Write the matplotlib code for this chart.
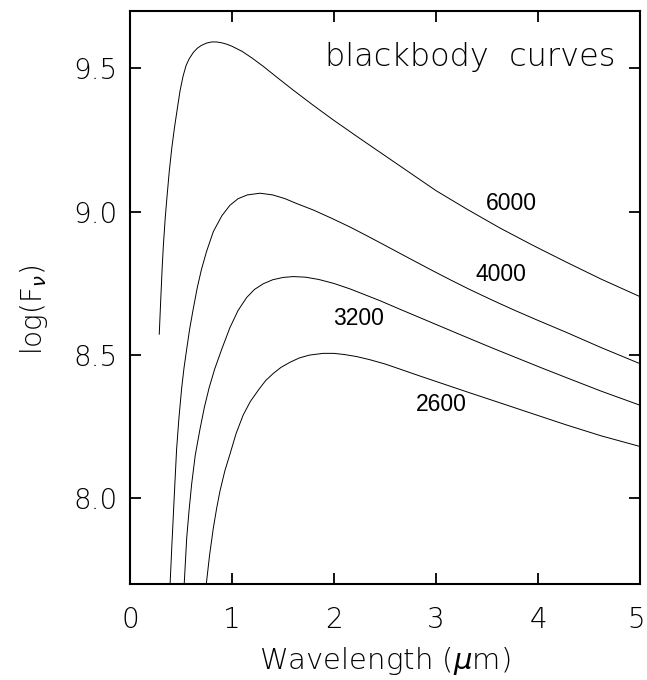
import matplotlib
matplotlib.use("Agg")
import matplotlib.pyplot as plt
import matplotlib.transforms as mtrans

# ---- data (wavelength in micron, log F_nu) ----
lam_6000 = [0.287, 0.30, 0.315, 0.327, 0.345, 0.36, 0.385, 0.41, 0.435, 0.458, 0.49, 0.52,
            0.55, 0.58, 0.62, 0.66, 0.70, 0.75, 0.80, 0.85, 0.90, 0.95, 1.00, 1.10, 1.20,
            1.31, 1.45, 1.60, 1.80, 2.00, 2.25, 2.50, 2.75, 3.00, 3.30, 3.63, 3.95, 4.28,
            4.62, 5.00]
logf_6000 = [8.572, 8.68, 8.80, 8.88, 8.975, 9.04, 9.14, 9.222, 9.29, 9.345, 9.42, 9.472,
             9.51, 9.533, 9.555, 9.57, 9.58, 9.588, 9.592, 9.592, 9.589, 9.584, 9.577, 9.559, 9.535,
             9.506, 9.466, 9.424, 9.37, 9.318, 9.256, 9.195, 9.134, 9.073, 9.009, 8.942, 8.882, 8.823,
             8.764, 8.703]

lam_4000 = [0.392, 0.41, 0.425, 0.44, 0.457, 0.48, 0.507, 0.53, 0.556, 0.585, 0.62, 0.66,
            0.70, 0.75, 0.817, 0.90, 0.98, 1.06, 1.15, 1.275, 1.40, 1.52, 1.634, 1.80, 1.98,
            2.157, 2.32, 2.50, 2.647, 2.80, 2.97, 3.15, 3.33, 3.55, 3.76, 4.00, 4.28, 4.62, 5.00]
logf_4000 = [7.69, 7.83, 7.94, 8.05, 8.17, 8.28, 8.385, 8.455, 8.52, 8.59, 8.66, 8.735,
             8.797, 8.86, 8.93, 8.985, 9.022, 9.045, 9.058, 9.064, 9.058, 9.045, 9.028, 9.005, 8.976,
             8.946, 8.916, 8.882, 8.854, 8.825, 8.793, 8.760, 8.728, 8.691, 8.657, 8.620, 8.578, 8.525,
             8.469]

lam_3200 = [0.53, 0.556, 0.58, 0.605, 0.64, 0.686, 0.73, 0.776, 0.83, 0.90, 0.98, 1.06,
            1.144, 1.22, 1.307, 1.40, 1.50, 1.60, 1.72, 1.85, 2.00, 2.157, 2.30, 2.45, 2.62,
            2.80, 3.00, 3.30, 3.55, 3.80, 4.03, 4.28, 4.62, 5.00]
logf_3200 = [7.69, 7.86, 7.96, 8.05, 8.15, 8.24, 8.318, 8.385, 8.45, 8.52, 8.595, 8.655,
             8.70, 8.728, 8.748, 8.762, 8.77, 8.773, 8.771, 8.763, 8.749, 8.730, 8.710, 8.689, 8.663,
             8.636, 8.606, 8.561, 8.524, 8.488, 8.455, 8.420, 8.373, 8.324]

lam_2600 = [0.745, 0.78, 0.817, 0.85, 0.882, 0.93, 0.98, 1.04, 1.11, 1.18, 1.265, 1.33,
            1.405, 1.48, 1.569, 1.66, 1.76, 1.895, 2.00, 2.10, 2.22, 2.35, 2.50, 2.647, 2.85,
            3.10, 3.35, 3.63, 3.95, 4.28, 4.62, 5.00]
logf_2600 = [7.69, 7.80, 7.895, 7.965, 8.024, 8.095, 8.153, 8.225, 8.29, 8.337, 8.38, 8.41,
             8.435, 8.456, 8.474, 8.489, 8.499, 8.505, 8.505, 8.501, 8.494, 8.483, 8.468, 8.450, 8.425,
             8.395, 8.365, 8.332, 8.294, 8.255, 8.217, 8.180]

temps = ["6000", "4000", "3200", "2600"]
label_x = [3.735, 3.637, 2.245, 3.049]
label_y = [9.028, 8.780, 8.626, 8.327]

plt.rcParams['font.family'] = ['DejaVu Sans']

fig = plt.figure(figsize=(6.47, 6.80), dpi=100)
ax = fig.add_axes([0.2009, 0.1412, 0.7883, 0.8426])

for lam, lf in [(lam_6000, logf_6000), (lam_4000, logf_4000),
                (lam_3200, logf_3200), (lam_2600, logf_2600)]:
    ax.plot(lam, lf, color='black', lw=0.7)

for t, x, y in zip(temps, label_x, label_y):
    ax.text(x, y, t, ha='center', va='center', fontsize=16.5,
            family=['Liberation Sans', 'DejaVu Sans'])

ax.text(4.755, 9.507, "blackbody  curves", ha='right', va='baseline',
        fontsize=23, fontweight='light')

ax.set_xlim(0, 5)
ax.set_ylim(7.7, 9.7)
ax.set_xticks([0, 1, 2, 3, 4, 5])
ax.set_yticks([8.0, 8.5, 9.0, 9.5])
ax.set_yticklabels(["8.0", "8.5", "9.0", "9.5"])
ax.tick_params(direction='in', length=8, width=1.3, top=True, right=True,
               labelsize=20)
ax.tick_params(axis='x', pad=16)
ax.tick_params(axis='y', pad=9)
for lab in ax.get_xticklabels() + ax.get_yticklabels():
    lab.set_fontweight('light')
# last x label sits right at the figure edge
last = ax.get_xticklabels()[-1]
last.set_transform(last.get_transform() + mtrans.ScaledTranslation(-3 / 72, 0, fig.dpi_scale_trans))
for s in ax.spines.values():
    s.set_linewidth(1.5)

ax.set_xlabel(r"Wavelength ($\mu$m)", fontsize=21, labelpad=8, fontweight='light')
ax.set_ylabel(r"log(F$_{\nu}$)", fontsize=20, fontweight='light')
ax.yaxis.set_label_coords(-0.157, 0.478)

fig.savefig("out.png", dpi=100)
